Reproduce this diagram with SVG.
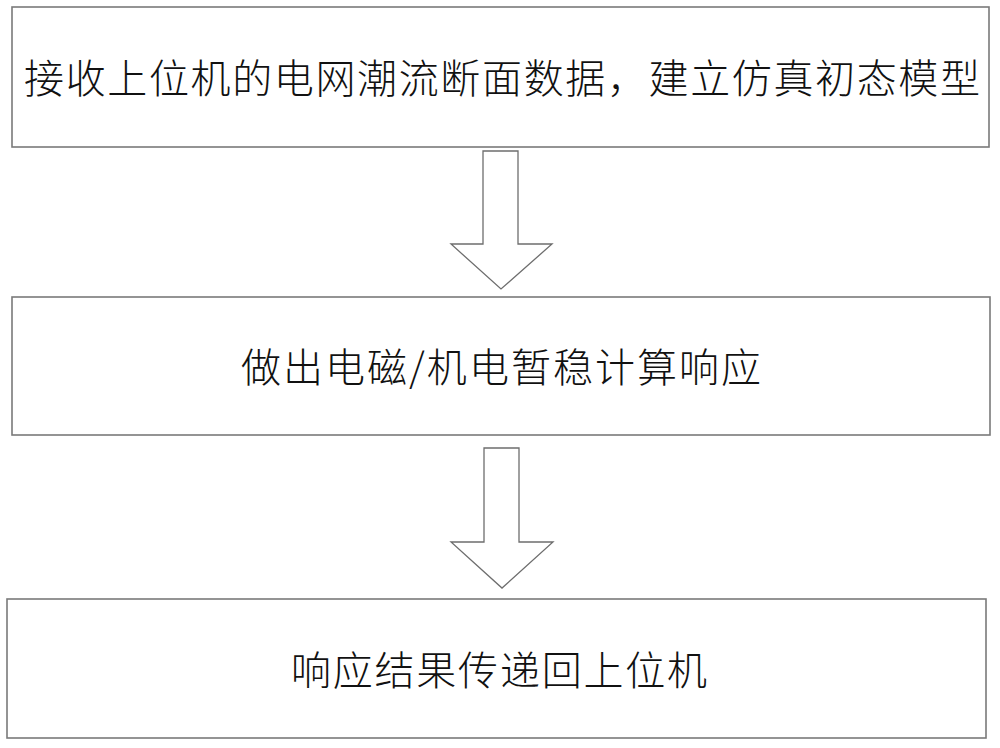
<svg xmlns="http://www.w3.org/2000/svg" width="1000" height="748" viewBox="0 0 1000 748">
<style>
.box{fill:#ffffff;stroke:#7a7a7a;stroke-width:1.6}
.arrow{fill:#ffffff;stroke:#6e6e6e;stroke-width:1.3;stroke-linejoin:miter}
.lbl{font-family:"Noto Sans CJK SC","Noto Sans CJK TC",sans-serif;font-size:40px;font-weight:300;fill:#111;dominant-baseline:central}
</style>
<rect width="1000" height="748" fill="#ffffff"/>
<g id="node1">
<rect class="box" x="12" y="7" width="977" height="140"/>
<text class="lbl" x="24" y="76" textLength="956" lengthAdjust="spacing">接收上位机的电网潮流断面数据，建立仿真初态模型</text>
</g>
<g id="node2">
<rect class="box" x="12" y="297" width="978" height="138"/>
<text class="lbl" x="241" y="365" textLength="520" lengthAdjust="spacing">做出电磁/机电暂稳计算响应</text>
</g>
<g id="node3">
<rect class="box" x="7" y="599" width="979" height="139"/>
<text class="lbl" x="291" y="668" textLength="416" lengthAdjust="spacing">响应结果传递回上位机</text>
</g>
<g id="connectors">
<polygon class="arrow" points="483,151 518,151 518,244 552,244 501,289 451,244 483,244"/>
<polygon class="arrow" points="484,448 519,448 519,542 553,542 502,588 451,542 484,542"/>
</g>
</svg>
